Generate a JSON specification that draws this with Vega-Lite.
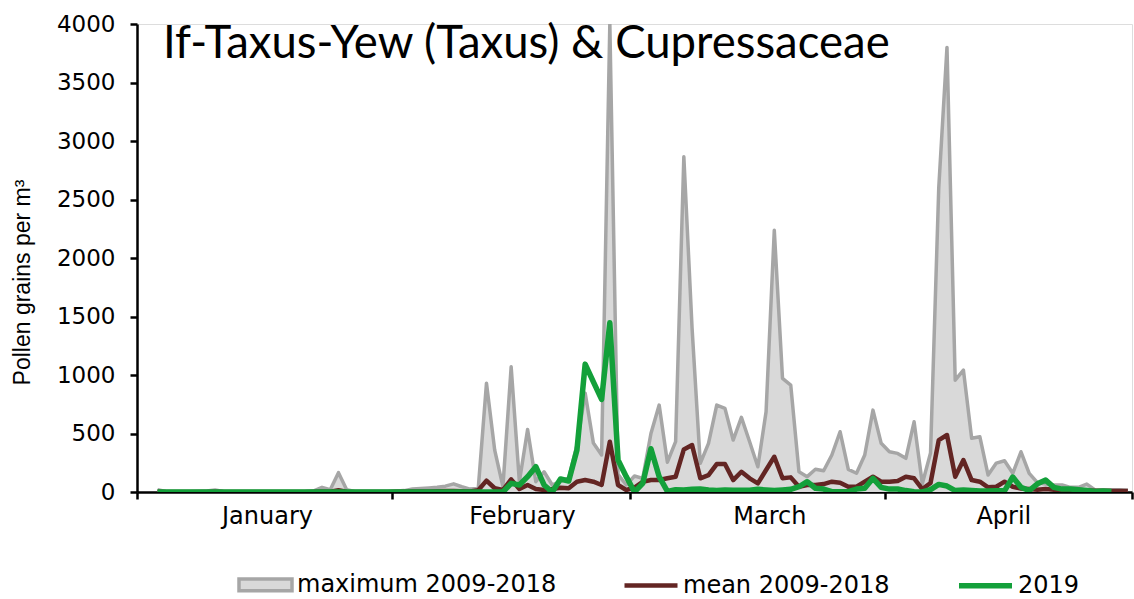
{
  "$schema": "https://vega.github.io/schema/vega-lite/v6.json",
  "width": 995,
  "height": 468,
  "autosize": {"type": "none"},
  "padding": {"left": 137, "top": 24, "right": 2, "bottom": 107},
  "background": "white",
  "title": {
    "text": "If-Taxus-Yew (Taxus) & Cupressaceae",
    "orient": "top",
    "anchor": "start",
    "frame": "group",
    "font": "Lato",
    "fontSize": 45.5,
    "fontWeight": "normal",
    "color": "#000000",
    "dx": 26,
    "offset": -54
  },
  "data": {
    "values": [
      {"day": 3, "max": 20, "mean": 2, "y2019": 0},
      {"day": 4, "max": 5, "mean": 1, "y2019": 0},
      {"day": 5, "max": 3, "mean": 1, "y2019": 0},
      {"day": 6, "max": 3, "mean": 1, "y2019": 0},
      {"day": 7, "max": 3, "mean": 1, "y2019": 0},
      {"day": 8, "max": 5, "mean": 1, "y2019": 0},
      {"day": 9, "max": 8, "mean": 1, "y2019": 0},
      {"day": 10, "max": 18, "mean": 2, "y2019": 0},
      {"day": 11, "max": 5, "mean": 1, "y2019": 0},
      {"day": 12, "max": 3, "mean": 1, "y2019": 0},
      {"day": 13, "max": 3, "mean": 1, "y2019": 0},
      {"day": 14, "max": 3, "mean": 1, "y2019": 0},
      {"day": 15, "max": 3, "mean": 1, "y2019": 0},
      {"day": 16, "max": 3, "mean": 1, "y2019": 0},
      {"day": 17, "max": 3, "mean": 1, "y2019": 0},
      {"day": 18, "max": 3, "mean": 1, "y2019": 0},
      {"day": 19, "max": 3, "mean": 1, "y2019": 0},
      {"day": 20, "max": 3, "mean": 1, "y2019": 0},
      {"day": 21, "max": 5, "mean": 1, "y2019": 0},
      {"day": 22, "max": 10, "mean": 2, "y2019": 0},
      {"day": 23, "max": 40, "mean": 5, "y2019": 0},
      {"day": 24, "max": 20, "mean": 3, "y2019": 0},
      {"day": 25, "max": 165, "mean": 15, "y2019": 0},
      {"day": 26, "max": 20, "mean": 3, "y2019": 0},
      {"day": 27, "max": 5, "mean": 1, "y2019": 0},
      {"day": 28, "max": 5, "mean": 1, "y2019": 0},
      {"day": 29, "max": 5, "mean": 1, "y2019": 0},
      {"day": 30, "max": 5, "mean": 1, "y2019": 0},
      {"day": 31, "max": 5, "mean": 1, "y2019": 0},
      {"day": 32, "max": 8, "mean": 2, "y2019": 0},
      {"day": 33, "max": 12, "mean": 2, "y2019": 0},
      {"day": 34, "max": 25, "mean": 4, "y2019": 0},
      {"day": 35, "max": 30, "mean": 5, "y2019": 0},
      {"day": 36, "max": 35, "mean": 5, "y2019": 0},
      {"day": 37, "max": 40, "mean": 6, "y2019": 0},
      {"day": 38, "max": 50, "mean": 8, "y2019": 0},
      {"day": 39, "max": 70, "mean": 8, "y2019": 0},
      {"day": 40, "max": 45, "mean": 6, "y2019": 0},
      {"day": 41, "max": 25, "mean": 5, "y2019": 0},
      {"day": 42, "max": 30, "mean": 15, "y2019": 0},
      {"day": 43, "max": 930, "mean": 97, "y2019": 0},
      {"day": 44, "max": 358, "mean": 32, "y2019": 0},
      {"day": 45, "max": 45, "mean": 17, "y2019": 0},
      {"day": 46, "max": 1070, "mean": 108, "y2019": 74},
      {"day": 47, "max": 88, "mean": 26, "y2019": 60},
      {"day": 48, "max": 535, "mean": 60, "y2019": 131},
      {"day": 49, "max": 88, "mean": 26, "y2019": 216},
      {"day": 50, "max": 173, "mean": 17, "y2019": 60},
      {"day": 51, "max": 60, "mean": 26, "y2019": 0},
      {"day": 52, "max": 88, "mean": 37, "y2019": 111},
      {"day": 53, "max": 120, "mean": 32, "y2019": 94},
      {"day": 54, "max": 400, "mean": 88, "y2019": 359},
      {"day": 55, "max": 845, "mean": 102, "y2019": 1093},
      {"day": 56, "max": 418, "mean": 88, "y2019": 942},
      {"day": 57, "max": 316, "mean": 60, "y2019": 791},
      {"day": 58, "max": 4000, "mean": 430, "y2019": 1446},
      {"day": 59, "max": 150, "mean": 60, "y2019": 273},
      {"day": 60, "max": 60, "mean": 17, "y2019": 131},
      {"day": 61, "max": 137, "mean": 37, "y2019": 0},
      {"day": 62, "max": 117, "mean": 88, "y2019": 74},
      {"day": 63, "max": 500, "mean": 102, "y2019": 370},
      {"day": 64, "max": 743, "mean": 102, "y2019": 131},
      {"day": 65, "max": 255, "mean": 117, "y2019": 5},
      {"day": 66, "max": 430, "mean": 130, "y2019": 20},
      {"day": 67, "max": 2865, "mean": 364, "y2019": 17},
      {"day": 68, "max": 1400, "mean": 401, "y2019": 23},
      {"day": 69, "max": 245, "mean": 117, "y2019": 26},
      {"day": 70, "max": 416, "mean": 145, "y2019": 17},
      {"day": 71, "max": 743, "mean": 239, "y2019": 12},
      {"day": 72, "max": 715, "mean": 239, "y2019": 17},
      {"day": 73, "max": 444, "mean": 102, "y2019": 15},
      {"day": 74, "max": 638, "mean": 173, "y2019": 15},
      {"day": 75, "max": 430, "mean": 117, "y2019": 15},
      {"day": 76, "max": 216, "mean": 74, "y2019": 23},
      {"day": 77, "max": 686, "mean": 188, "y2019": 17},
      {"day": 78, "max": 2237, "mean": 301, "y2019": 12},
      {"day": 79, "max": 971, "mean": 117, "y2019": 17},
      {"day": 80, "max": 914, "mean": 125, "y2019": 23},
      {"day": 81, "max": 173, "mean": 45, "y2019": 45},
      {"day": 82, "max": 131, "mean": 60, "y2019": 88},
      {"day": 83, "max": 194, "mean": 60, "y2019": 32},
      {"day": 84, "max": 182, "mean": 68, "y2019": 25},
      {"day": 85, "max": 316, "mean": 88, "y2019": 3},
      {"day": 86, "max": 515, "mean": 80, "y2019": 3},
      {"day": 87, "max": 194, "mean": 45, "y2019": 3},
      {"day": 88, "max": 160, "mean": 45, "y2019": 25},
      {"day": 89, "max": 316, "mean": 88, "y2019": 32},
      {"day": 90, "max": 700, "mean": 131, "y2019": 117},
      {"day": 91, "max": 416, "mean": 88, "y2019": 40},
      {"day": 92, "max": 344, "mean": 88, "y2019": 25},
      {"day": 93, "max": 330, "mean": 94, "y2019": 25},
      {"day": 94, "max": 288, "mean": 131, "y2019": 12},
      {"day": 95, "max": 600, "mean": 117, "y2019": 3},
      {"day": 96, "max": 70, "mean": 25, "y2019": 0},
      {"day": 97, "max": 333, "mean": 77, "y2019": 20},
      {"day": 98, "max": 2600, "mean": 444, "y2019": 65},
      {"day": 99, "max": 3800, "mean": 487, "y2019": 51},
      {"day": 100, "max": 956, "mean": 131, "y2019": 12},
      {"day": 101, "max": 1042, "mean": 273, "y2019": 17},
      {"day": 102, "max": 460, "mean": 102, "y2019": 12},
      {"day": 103, "max": 472, "mean": 88, "y2019": 8},
      {"day": 104, "max": 145, "mean": 40, "y2019": 8},
      {"day": 105, "max": 247, "mean": 45, "y2019": 10},
      {"day": 106, "max": 267, "mean": 88, "y2019": 10},
      {"day": 107, "max": 160, "mean": 45, "y2019": 128},
      {"day": 108, "max": 344, "mean": 30, "y2019": 40},
      {"day": 109, "max": 160, "mean": 25, "y2019": 12},
      {"day": 110, "max": 80, "mean": 20, "y2019": 70},
      {"day": 111, "max": 68, "mean": 25, "y2019": 102},
      {"day": 112, "max": 60, "mean": 20, "y2019": 40},
      {"day": 113, "max": 60, "mean": 15, "y2019": 25},
      {"day": 114, "max": 40, "mean": 15, "y2019": 25},
      {"day": 115, "max": 40, "mean": 12, "y2019": 20},
      {"day": 116, "max": 68, "mean": 12, "y2019": 12},
      {"day": 117, "max": 17, "mean": 10, "y2019": 5},
      {"day": 118, "max": 15, "mean": 10, "y2019": 8},
      {"day": 119, "max": 20, "mean": 8, "y2019": 5},
      {"day": 120, "max": 20, "mean": 8, "y2019": null},
      {"day": 121, "max": 15, "mean": 8, "y2019": null}
    ]
  },
  "encoding": {
    "x": {
      "field": "day",
      "type": "quantitative",
      "scale": {"domain": [0.5, 121.5], "nice": false, "zero": false},
      "axis": {
        "title": null,
        "grid": false,
        "values": [0.5, 31.5, 60.5, 91.5, 121.5],
        "labelExpr": "datum.value < 1 ? 'January' : datum.value < 32 ? 'February' : datum.value < 61 ? 'March' : datum.value < 92 ? 'April' : ''",
        "labelOffset": {"condition": [{"test": "datum.value > 60 && datum.value < 61", "value": 139}, {"test": "datum.value > 91 && datum.value < 92", "value": 118}], "value": 130},
        "labelAlign": "center",
        "labelFont": "DejaVu Sans",
        "labelFontSize": 24,
        "labelColor": "#000000",
        "labelPadding": 5,
        "labelFlush": false,
        "labelOverlap": false,
        "domainColor": "#000000",
        "domainWidth": 2.5,
        "tickColor": "#000000",
        "tickWidth": 2.5,
        "tickSize": 7
      }
    }
  },
  "layer": [
    {
      "mark": {"type": "area", "color": "#d9d9d9", "opacity": 1},
      "encoding": {
        "y": {
          "field": "max",
          "type": "quantitative",
          "scale": {"domain": [0, 4000], "nice": false},
          "axis": {
            "title": "Pollen grains per m³",
            "titleFont": "Liberation Sans",
            "titleFontSize": 23,
            "titleFontWeight": "normal",
            "titleColor": "#000000",
            "titleAngle": -90,
            "titleX": -115,
            "titleY": 258,
            "titleAlign": "center",
            "titleBaseline": "middle",
            "grid": false,
            "format": "d",
            "values": [0, 500, 1000, 1500, 2000, 2500, 3000, 3500, 4000],
            "labelFont": "DejaVu Sans",
            "labelFontSize": 23,
            "labelColor": "#000000",
            "labelPadding": 15,
            "domainColor": "#000000",
            "domainWidth": 2.5,
            "tickColor": "#000000",
            "tickWidth": 2.5,
            "tickSize": 7
          }
        }
      }
    },
    {
      "transform": [{"fold": ["max", "mean", "y2019"], "as": ["series", "value"]}],
      "mark": {"type": "line", "strokeJoin": "round", "clip": true},
      "encoding": {
        "y": {"field": "value", "type": "quantitative"},
        "color": {
          "field": "series",
          "type": "nominal",
          "scale": {"domain": ["max", "mean", "y2019"], "range": ["#a6a6a6", "#632523", "#13a03a"]},
          "legend": {
            "title": null,
            "orient": "none",
            "legendX": 100,
            "legendY": 532,
            "padding": 0,
            "direction": "horizontal",
            "labelExpr": "datum.value === 'max' ? 'maximum 2009-2018' : datum.value === 'mean' ? 'mean 2009-2018' : '2019'",
            "labelFont": "DejaVu Sans",
            "labelFontSize": 24,
            "labelColor": "#000000",
            "labelLimit": 500,
            "labelOffset": 3,
            "symbolSize": 2809,
            "symbolStrokeWidth": 5,
            "columnPadding": 58,
            "encoding": {
              "symbols": {
                "shape": {"condition": {"test": "datum.value === 'max'", "value": "M-1,-0.22H1V0.22H-1Z"}, "value": "stroke"},
                "fill": {"condition": {"test": "datum.value === 'max'", "value": "#d9d9d9"}, "value": "transparent"},
                "strokeWidth": {"condition": {"test": "datum.value === 'max'", "value": 2.5}, "value": 5}
              }
            }
          }
        },
        "strokeWidth": {
          "field": "series",
          "type": "nominal",
          "scale": {"domain": ["max", "mean", "y2019"], "range": [3.5, 5.5, 5.5]},
          "legend": null
        }
      }
    }
  ]
}
